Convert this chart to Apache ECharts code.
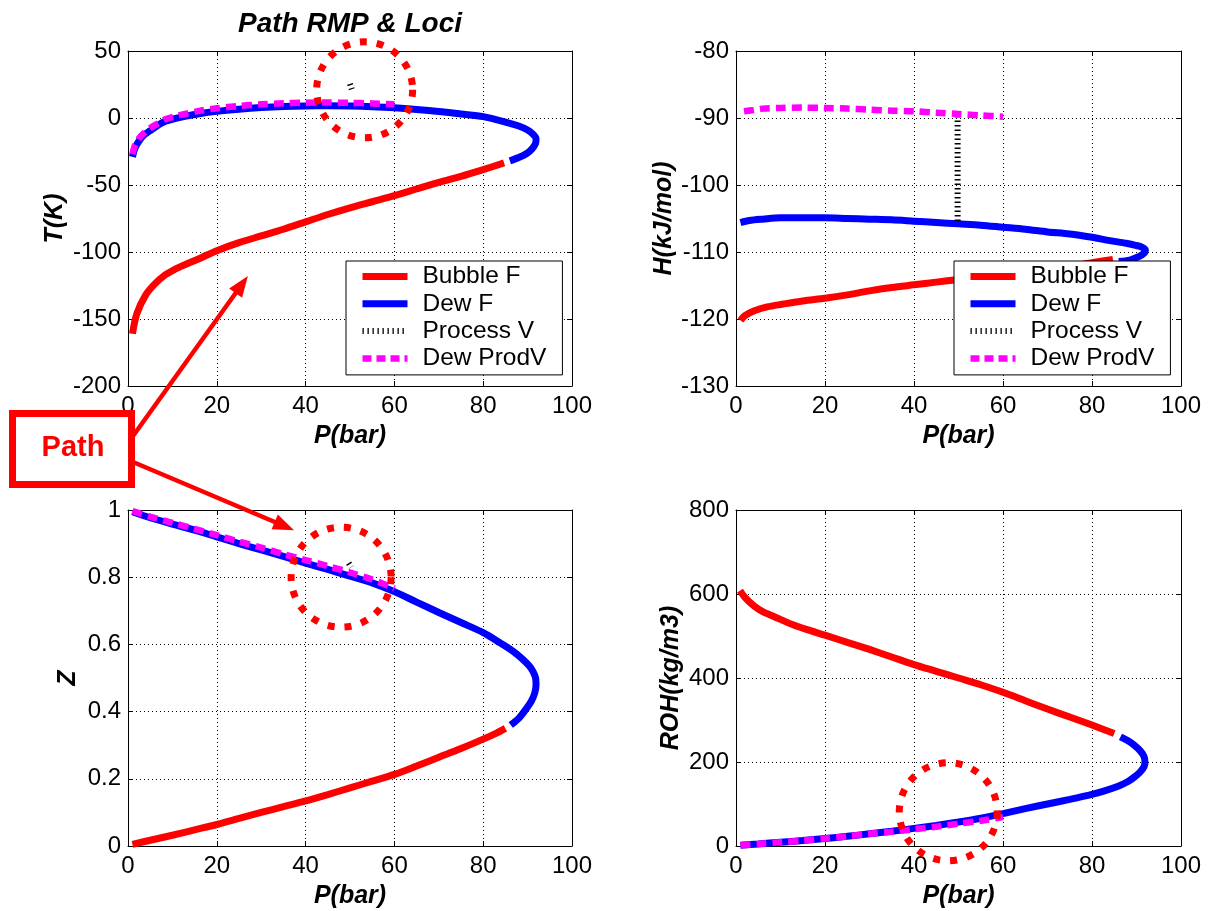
<!DOCTYPE html>
<html>
<head>
<meta charset="utf-8">
<script src="https://cdn.jsdelivr.net/npm/echarts@6/dist/echarts.min.js"></script>
<style>
  html, body { margin: 0; padding: 0; background: #fff; }
  #chart { width: 1210px; height: 911px; }
</style>
</head>
<body>
<div id="chart"></div>
<script>
// ---- Tick values for each axis ----
const pTicks   = [0, 20, 40, 60, 80, 100];
const tTicks   = [-200, -150, -100, -50, 0, 50];
const hTicks   = [-130, -120, -110, -100, -90, -80];
const zTicks   = [0, 0.2, 0.4, 0.6, 0.8, 1];
const rohTicks = [0, 200, 400, 600, 800];

// ---- Series names ----
const seriesNames = ['Bubble F', 'Dew F', 'Process V', 'Dew ProdV'];

// ---- Temperature vs pressure [P(bar), T] ----
const tBubble = [[1,-161],[2,-146],[4,-132],[6,-124],[8.4,-117],[10.5,-113],[12.8,-109.5],[16,-105],[20,-99],[25,-93],[30,-88],[35,-83],[40,-77.5],[45,-72],[50,-67],[55,-62.5],[60,-58],[65,-53],[70,-48],[75,-43.5],[80,-38.5],[84.7,-33.5]];
const tDew = [[86,-32],[88,-29.5],[89.8,-26.5],[91,-23],[91.8,-19],[91.9,-15.5],[91.2,-12],[90,-9],[88,-6],[85,-3],[80,1],[75,3],[70,4.9],[65,6.4],[60,7.6],[55,8.4],[50,8.9],[45,9.1],[40,9],[35,8.6],[30,7.8],[25,6.6],[20,5],[16,3.2],[12.8,1.2],[10.5,-0.5],[8.4,-2.5],[6.5,-6],[5,-9.5],[3.5,-13],[2.4,-17.5],[1.5,-23],[1,-29]];
const tProcess = [[50,25.5],[50.4,21.5]];
const tProdV = [[1,-27],[1.5,-21],[2.4,-15.5],[3.5,-11.5],[5,-7.5],[6.5,-4.5],[8.4,-1],[10.5,1.2],[12.8,3],[16,5.3],[20,7.3],[25,9],[30,10.2],[35,11],[40,11.4],[45,11.5],[50,11.3],[55,10.9],[60,10.2]];

// ---- Enthalpy vs pressure [P(bar), H] ----
const hBubble = [[1,-120.2],[2,-119.5],[4,-118.8],[7,-118.2],[10.4,-117.8],[15,-117.3],[20,-116.9],[25,-116.4],[30,-115.8],[35,-115.3],[40,-114.9],[45,-114.5],[50,-114.1],[55,-113.7],[60,-113.3],[65,-112.9],[70,-112.5],[75,-112.1],[80,-111.6],[84.7,-111.1]];
const hDew = [[86,-111.4],[88.5,-111.2],[90.5,-110.7],[91.8,-110.1],[92,-109.7],[91.3,-109.3],[89.8,-109],[87.7,-108.7],[84,-108.3],[80,-107.8],[75,-107.3],[70,-107],[65,-106.6],[60,-106.3],[55,-106],[50,-105.8],[45,-105.6],[40,-105.4],[35,-105.2],[30,-105.1],[25,-105],[20,-104.9],[15,-104.9],[10,-104.9],[6,-105.1],[3,-105.3],[1,-105.6]];
const hProcess = [[49.8,-89.7],[49.8,-105.4]];
const hProdV = [[1.8,-89],[4,-88.8],[6,-88.6],[10,-88.5],[15,-88.45],[20,-88.5],[25,-88.6],[30,-88.75],[35,-88.9],[40,-89],[45,-89.2],[50,-89.4],[55,-89.6],[60,-89.8]];

// ---- Compressibility factor vs pressure [P(bar), Z] ----
const zBubble = [[1,0.005],[5,0.017],[10,0.032],[15,0.048],[20,0.064],[25,0.082],[30,0.1],[35,0.117],[40,0.134],[45,0.153],[50,0.173],[55,0.193],[60,0.213],[65,0.238],[70,0.264],[75,0.29],[80,0.318],[83,0.336],[85,0.35]];
const zDew = [[86.2,0.36],[88,0.38],[89.5,0.405],[90.8,0.43],[91.6,0.455],[91.9,0.48],[91.8,0.5],[91.2,0.52],[90.3,0.537],[88.8,0.557],[86.9,0.578],[84,0.603],[80,0.635],[75,0.665],[70,0.695],[65,0.726],[60,0.757],[55,0.783],[50,0.803],[45,0.823],[40,0.842],[35,0.862],[30,0.881],[25,0.9],[20,0.92],[15,0.94],[10,0.958],[5,0.977],[1,0.995]];
const zProcess = [[49.7,0.842],[50.3,0.83]];
const zProdV = [[1,0.997],[5,0.98],[10,0.962],[15,0.944],[20,0.925],[25,0.906],[30,0.888],[35,0.869],[40,0.851],[45,0.833],[50,0.814],[55,0.793],[60,0.767]];

// ---- Density vs pressure [P(bar), ROH] ----
const rBubble = [[0.9,608],[2,592],[4,572],[6,558],[8.6,546],[13,526],[16,515],[20,502],[25,485],[30,468],[35,450],[40,432],[45,416],[50,400],[55,384],[60,366],[65,346],[70,326],[75,307],[80,288],[85,268]];
const rDew = [[86.4,260],[88,251],[89.5,240],[90.8,227],[91.7,213],[91.9,200],[91.7,189],[90.8,176],[89.5,164],[88,153],[86,143],[83,132],[80,123],[75,111],[70,100],[65,89],[60,77],[55,66],[50,57],[45,49],[40,42],[35,35],[30,29],[25,23],[20,18],[15,13],[10,9],[5,5],[1,2]];
const rProdV = [[1,2],[5,5],[10,9],[15,13],[20,18],[25,23],[30,29],[35,34],[40,40],[45,46],[50,53],[55,60],[60,69]];

// ---- Layout and styles ----
const FONT = "'Liberation Sans', Arial, Helvetica, sans-serif";
const grids = [
  { left: 128, top: 51,  width: 444, height: 335 },
  { left: 736, top: 51,  width: 445, height: 335 },
  { left: 128, top: 510, width: 444, height: 336 },
  { left: 736, top: 510, width: 445, height: 336 }
];
const panels = [
  { ticks: tTicks,   yName: 'T(K)',        nameGap: 60, data: [tBubble, tDew, tProcess, tProdV] },
  { ticks: hTicks,   yName: 'H(kJ/mol)',   nameGap: 59, data: [hBubble, hDew, hProcess, hProdV] },
  { ticks: zTicks,   yName: 'Z',           nameGap: 47, data: [zBubble, zDew, zProcess, zProdV] },
  { ticks: rohTicks, yName: 'ROH(kg/m3)',  nameGap: 52, data: [rBubble, rDew, null, rProdV] }
];
const lineStyles = {
  'Bubble F':  { color: '#ff0000', width: 7,   type: 'solid',    legendType: 'solid' },
  'Dew F':     { color: '#0000ff', width: 7,   type: 'solid',    legendType: 'solid' },
  'Process V': { color: '#000000', width: 6,   type: [1.5, 3],   legendType: [1.3, 3.7] },
  'Dew ProdV': { color: '#ff00ff', width: 6.5, type: [10, 6],    legendType: [9, 5] }
};

function tickRange(ticks) {
  return { min: ticks[0], max: ticks[ticks.length - 1], interval: ticks[1] - ticks[0] };
}

const gridLine  = () => ({ show: true, lineStyle: { color: '#000', width: 1, type: [1, 3] } });
const frameLine = () => ({ show: true, onZero: false, lineStyle: { color: '#000', width: 1 } });
const innerTick = () => ({ show: true, inside: true, length: 5, lineStyle: { color: '#000', width: 1 } });
const labelStyle = (margin) => ({ margin: margin, color: '#000', fontSize: 24, fontFamily: FONT });
const nameStyle = () => ({ color: '#000', fontSize: 25, fontFamily: FONT, fontWeight: 'bold', fontStyle: 'italic' });

const xAxes = [], yAxes = [], series = [];
const pRange = tickRange(pTicks);

// primary axes (bottom / left)
panels.forEach((p, i) => {
  xAxes.push(Object.assign({
    type: 'value', gridIndex: i, position: 'bottom',
    name: 'P(bar)', nameLocation: 'middle', nameGap: 38, nameTextStyle: nameStyle(),
    axisLine: frameLine(), axisTick: innerTick(),
    axisLabel: labelStyle(8),
    splitLine: gridLine()
  }, pRange));
  yAxes.push(Object.assign({
    type: 'value', gridIndex: i, position: 'left',
    name: p.yName, nameLocation: 'middle', nameRotate: 90, nameGap: p.nameGap, nameTextStyle: nameStyle(),
    axisLine: frameLine(), axisTick: innerTick(),
    axisLabel: labelStyle(7),
    splitLine: gridLine()
  }, tickRange(p.ticks)));
});
// mirrored axes (top / right) closing the box
panels.forEach((p, i) => {
  xAxes.push(Object.assign({
    type: 'value', gridIndex: i, position: 'top',
    axisLine: frameLine(), axisTick: innerTick(), axisLabel: { show: false }, splitLine: { show: false }
  }, pRange));
  yAxes.push(Object.assign({
    type: 'value', gridIndex: i, position: 'right',
    axisLine: frameLine(), axisTick: innerTick(), axisLabel: { show: false }, splitLine: { show: false }
  }, tickRange(p.ticks)));
});

panels.forEach((p, i) => {
  seriesNames.forEach((name, k) => {
    if (!p.data[k]) return;
    const st = lineStyles[name];
    series.push({
      type: 'line', name: name, xAxisIndex: i, yAxisIndex: i,
      data: p.data[k], symbol: 'none', showSymbol: false,
      smooth: name === 'Process V' ? false : 0.3,
      lineStyle: { color: st.color, width: st.width, type: st.type, cap: 'butt' },
      itemStyle: { color: st.color },
      emphasis: { disabled: true },
      z: 2 + k * 0.01
    });
  });
});

function legendAt(left, top) {
  return {
    orient: 'vertical', left: left, top: top,
    padding: [3, 16, 4, 13],
    backgroundColor: '#fff', borderColor: '#000', borderWidth: 1, borderRadius: 0,
    itemWidth: 45, itemHeight: 23, itemGap: 2.3,
    itemStyle: { opacity: 0 },
    textStyle: { color: '#000', fontSize: 24.5, fontFamily: FONT, lineHeight: 23, padding: [0, 0, 0, 10] },
    selectedMode: false,
    z: 10,
    data: seriesNames.map(n => ({
      name: n,
      itemStyle: { opacity: 0 },
      lineStyle: { color: lineStyles[n].color, width: lineStyles[n].width, type: lineStyles[n].legendType, cap: 'butt' }
    }))
  };
}

const option = {
  animation: false,
  backgroundColor: '#fff',
  grid: grids.map(g => Object.assign({ show: false }, g)),
  xAxis: xAxes,
  yAxis: yAxes,
  legend: [legendAt(346, 261), legendAt(954, 261)],
  series: series
};

const chart = echarts.init(document.getElementById('chart'), null, { renderer: 'canvas' });
chart.setOption(option);

// ---- Overlay annotations: title, highlight rings, "Path" callout ----
const rings = [
  { panel: 0, at: [53.3, 21],   r: 48 },
  { panel: 2, at: [48, 0.8],    r: 50 },
  { panel: 3, at: [47.7, 81.5], r: 49 }
];
const pathBox = { x: 12.5, y: 413.5, width: 119, height: 71 };
const arrows = [
  { from: [133, 436], panel: 0, to: [27, -118] },
  { from: [133, 462], panel: 2, to: [37.4, 0.94] }
];
const toPixel = (panel, pt) => chart.convertToPixel({ xAxisIndex: panel, yAxisIndex: panel }, pt);

const elements = [];
elements.push({
  type: 'text', x: 350, y: 24, z: 20,
  style: { text: 'Path RMP & Loci', fill: '#000', font: "italic bold 28px " + FONT, align: 'center', verticalAlign: 'middle' }
});
rings.forEach(c => {
  const [cx, cy] = toPixel(c.panel, c.at);
  elements.push({
    type: 'circle', z: 20, shape: { cx: cx, cy: cy, r: c.r },
    style: { fill: 'none', stroke: '#ff0000', lineWidth: 7, lineDash: [7, 10] }
  });
});
elements.push({
  type: 'rect', z: 20, shape: pathBox,
  style: { fill: '#fff', stroke: '#ff0000', lineWidth: 7 }
});
elements.push({
  type: 'text', z: 21, x: pathBox.x + pathBox.width / 2 + 1, y: pathBox.y + pathBox.height / 2 - 1,
  style: { text: 'Path', fill: '#ff0000', font: "bold 29px " + FONT, align: 'center', verticalAlign: 'middle' }
});
arrows.forEach(a => {
  const [tx, ty] = toPixel(a.panel, a.to);
  const [fx, fy] = a.from;
  const dx = tx - fx, dy = ty - fy, len = Math.hypot(dx, dy);
  const ux = dx / len, uy = dy / len;
  const headLen = 21, headHalf = 8;
  const bx = tx - ux * headLen, by = ty - uy * headLen;
  elements.push({
    type: 'line', z: 20, shape: { x1: fx, y1: fy, x2: bx + ux * 2, y2: by + uy * 2 },
    style: { stroke: '#ff0000', lineWidth: 4.5 }
  });
  elements.push({
    type: 'polygon', z: 20,
    shape: { points: [[tx, ty], [bx - uy * headHalf, by + ux * headHalf], [bx + uy * headHalf, by - ux * headHalf]] },
    style: { fill: '#ff0000' }
  });
});
chart.setOption({ graphic: { elements: elements } });
</script>
</body>
</html>
